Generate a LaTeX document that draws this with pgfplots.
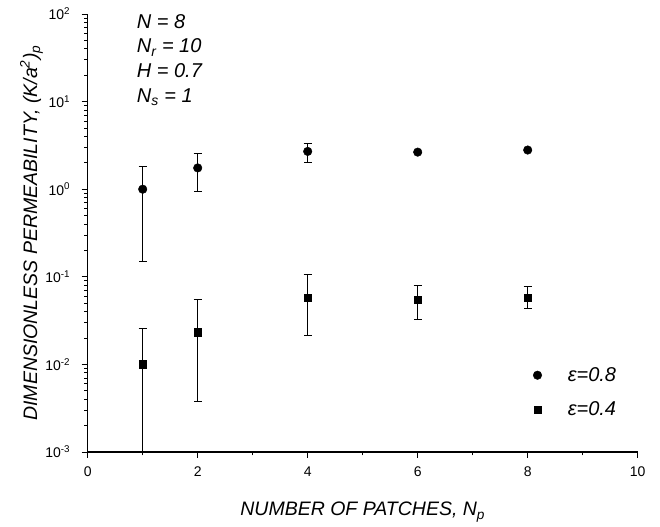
\documentclass[border=0pt]{standalone}
\usepackage{fontspec}
\setmainfont{Liberation Sans}
\usepackage{pgfplots}
\pgfplotsset{compat=1.18}
\begin{document}
\begin{tikzpicture}
\begin{axis}[
  at={(0,0)}, anchor=south west,
  scale only axis, width=550bp, height=438bp,
  ymode=log, xmin=0, xmax=10, ymin=1e-3, ymax=1e2,
  axis lines=left, axis line style={-, line width=1.1bp},
  tick align=outside, major tick length=6bp, minor tick length=3.5bp,
  tick style={black, line width=0.8bp},
  xtick={0,2,4,6,8,10}, xticklabels={0,2,4,6,8,10},
  minor xtick={1,3,5,7,9},
  ytick={1e-3,1e-2,1e-1,1,10,100},
  yticklabels={10\textsuperscript{-3},10\textsuperscript{-2},10\textsuperscript{-1},10\textsuperscript{0},10\textsuperscript{1},10\textsuperscript{2}},
  minor ytick={2e-3,3e-3,4e-3,5e-3,6e-3,7e-3,8e-3,9e-3,
               2e-2,3e-2,4e-2,5e-2,6e-2,7e-2,8e-2,9e-2,
               2e-1,3e-1,4e-1,5e-1,6e-1,7e-1,8e-1,9e-1,
               2,3,4,5,6,7,8,9,20,30,40,50,60,70,80,90},
  tick label style={font=\fontsize{14bp}{14bp}\selectfont},
  yticklabel style={xshift=-8bp},
  xticklabel style={yshift=-5bp},
  xlabel={\textit{NUMBER OF PATCHES, N\textsubscript{p}}},
  ylabel={\textit{DIMENSIONLESS PERMEABILITY, (K/a\textsuperscript{2})\textsubscript{p}}},
  label style={font=\fontsize{19.5bp}{19.5bp}\selectfont},
  xlabel style={at={(axis description cs:0.5,-0.146)}, anchor=base},
  ylabel style={at={(axis description cs:-0.092,0.5)}, anchor=base},
  legend style={draw=none, fill=none, inner sep=0pt, outer sep=0pt,
    font=\fontsize{20bp}{20bp}\selectfont,
    at={(axis description cs:0.81,0.136)}, anchor=west,
    row sep=15bp, legend cell align=left},
  /tikz/every odd column/.style={column sep=24bp},
]
\addplot[only marks, mark=*, mark size=4.3bp, black,
  error bars/.cd, y dir=both, y explicit,
  error bar style={line width=0.6bp, black},
  error mark options={rotate=90, mark size=4bp, line width=0.6bp, black}]
  coordinates {
  (1,1.0) += (0,0.82) -= (0,0.85)
  (2,1.75) += (0,0.82) -= (0,0.80)
  (4,2.7) += (0,0.65) -= (0,0.67)
  (6,2.65) += (0,0) -= (0,0)
  (8,2.8) += (0,0) -= (0,0)
  };
\addlegendentry{\textit{ε=0.8}}
\addplot[only marks, mark=square*, mark size=3.8bp, black,
  error bars/.cd, y dir=both, y explicit,
  error bar style={line width=0.6bp, black},
  error mark options={rotate=90, mark size=4bp, line width=0.6bp, black}]
  coordinates {
  (1,0.01) += (0,0.016) -= (0,0.0095)
  (2,0.0234) += (0,0.0316) -= (0,0.0196)
  (4,0.058) += (0,0.049) -= (0,0.0367)
  (6,0.055) += (0,0.025) -= (0,0.0223)
  (8,0.058) += (0,0.020) -= (0,0.0143)
  };
\addlegendentry{\textit{ε=0.4}}
\node[anchor=base west, font=\fontsize{20bp}{20bp}\selectfont\itshape] at (axis description cs:0.083,0.968) {N = 8};
\node[anchor=base west, font=\fontsize{20bp}{20bp}\selectfont\itshape] at (axis description cs:0.083,0.911) {N\textsubscript{r} = 10};
\node[anchor=base west, font=\fontsize{20bp}{20bp}\selectfont\itshape] at (axis description cs:0.083,0.854) {H = 0.7};
\node[anchor=base west, font=\fontsize{20bp}{20bp}\selectfont\itshape] at (axis description cs:0.083,0.799) {N\textsubscript{s} = 1};
\end{axis}
\pgfresetboundingbox
\path (-87.7bp,-75bp) rectangle (572.3bp,452bp);
\end{tikzpicture}
\end{document}
